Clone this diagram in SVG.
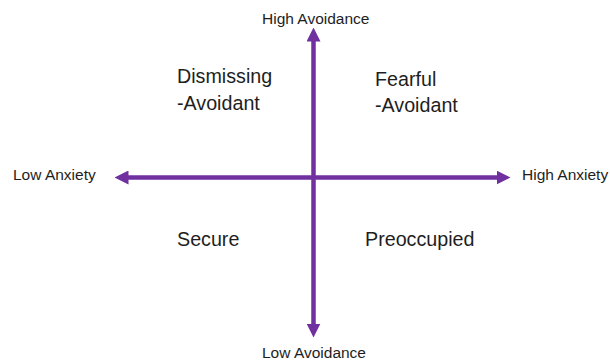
<svg xmlns="http://www.w3.org/2000/svg" width="610" height="362" viewBox="0 0 610 362">
  <style>
    .axis { stroke: #7030A0; stroke-width: 4.5; fill: none; }
    .small { font-family: "Liberation Sans", Arial, sans-serif; font-size: 15.5px; fill: #1e1e1e; }
    .big { font-family: "Liberation Sans", Arial, sans-serif; font-size: 19.7px; fill: #1e1e1e; }
  </style>
  <defs>
    <marker id="arrow" markerUnits="userSpaceOnUse" markerWidth="14" markerHeight="14" viewBox="0 0 14 14" refX="0.5" refY="7" orient="auto-start-reverse">
      <path d="M0,0 L14,7 L0,14 z" fill="#7030A0"/>
    </marker>
  </defs>
  <rect width="610" height="362" fill="#ffffff"/>
  <g id="connectors">
    <line class="axis" x1="313.5" y1="41" x2="313.5" y2="324" marker-start="url(#arrow)" marker-end="url(#arrow)"/>
    <line class="axis" x1="128" y1="177.5" x2="497" y2="177.5" marker-start="url(#arrow)" marker-end="url(#arrow)"/>
  </g>
  <g id="high-avoidance"><text class="small" x="262" y="24">High Avoidance</text></g>
  <g id="low-avoidance"><text class="small" x="262" y="358">Low Avoidance</text></g>
  <g id="low-anxiety"><text class="small" x="13" y="180">Low Anxiety</text></g>
  <g id="high-anxiety"><text class="small" x="522" y="180">High Anxiety</text></g>
  <g id="dismissing"><text class="big" x="177" y="83">Dismissing</text><text class="big" x="177" y="110">-Avoidant</text></g>
  <g id="fearful"><text class="big" x="375" y="86">Fearful</text><text class="big" x="375" y="112">-Avoidant</text></g>
  <g id="secure"><text class="big" x="177" y="246">Secure</text></g>
  <g id="preoccupied"><text class="big" x="365" y="246">Preoccupied</text></g>
</svg>
